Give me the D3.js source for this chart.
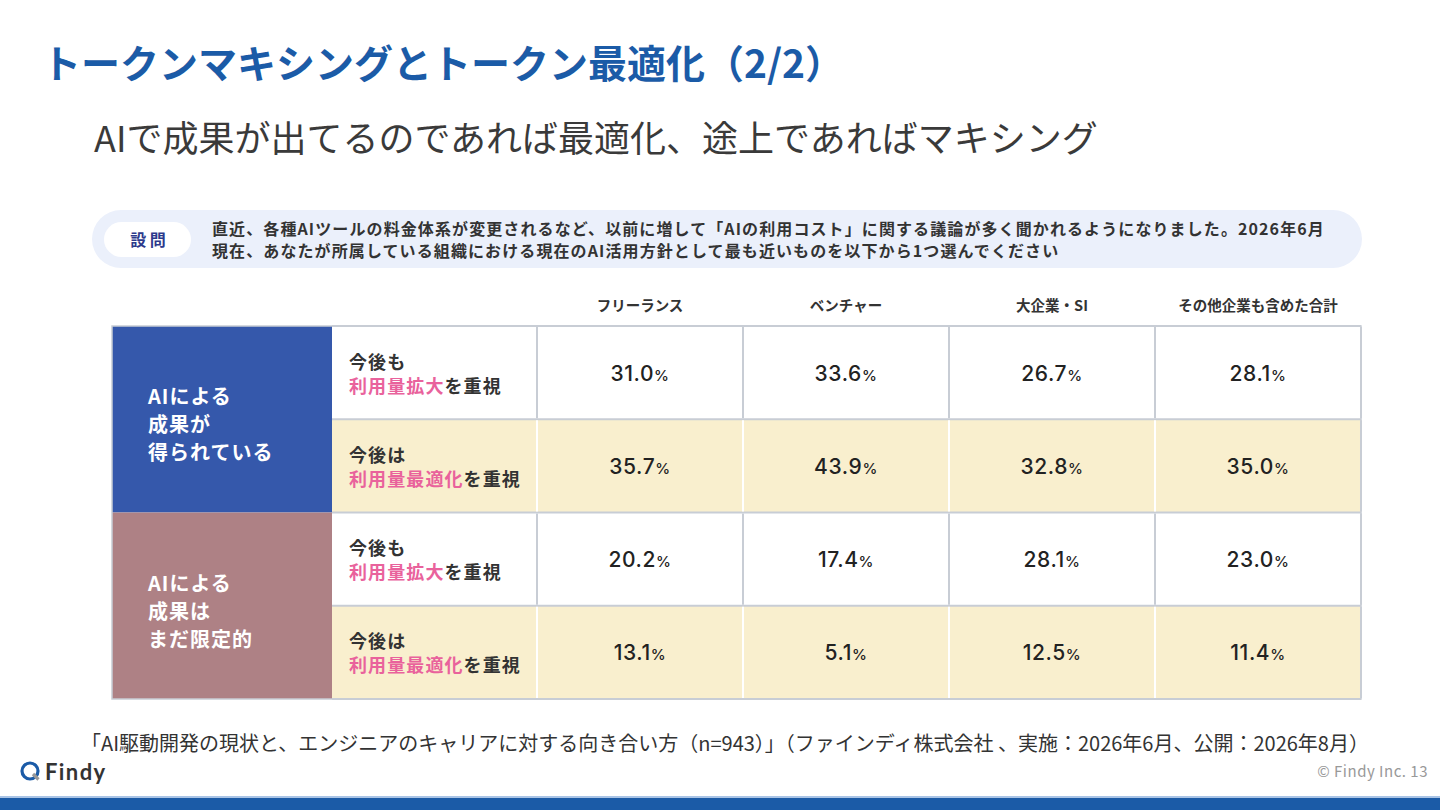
<!DOCTYPE html>
<html>
<head>
<meta charset="utf-8">
<script src="https://cdn.jsdelivr.net/npm/d3@7"></script>
<style>
  body { margin: 0; background: #fff; }
  svg { display: block; font-family: "Noto Sans CJK JP", "Noto Sans", sans-serif; }
</style>
</head>
<body>
<div id="chart-area"></div>
<script>
// data
var columns = ["フリーランス", "ベンチャー", "大企業・SI", "その他企業も含めた合計"];
var groups = [
    { lines: ["AIによる", "成果が", "得られている"], color: "#3558AB" },
    { lines: ["AIによる", "成果は", "まだ限定的"], color: "#AE8185" }
];
var rowLabels = [
    { top: "今後も", pink: "利用量拡大", rest: "を重視" },
    { top: "今後は", pink: "利用量最適化", rest: "を重視" },
    { top: "今後も", pink: "利用量拡大", rest: "を重視" },
    { top: "今後は", pink: "利用量最適化", rest: "を重視" }
];
var freelance  = [31.0, 35.7, 20.2, 13.1];
var venture    = [33.6, 43.9, 17.4, 5.1];
var enterprise = [26.7, 32.8, 28.1, 12.5];
var total      = [28.1, 35.0, 23.0, 11.4];
var series = [freelance, venture, enterprise, total];

var svg = d3.select("#chart-area")
    .append("svg")
        .attr("width", 1440)
        .attr("height", 810);

// title + subtitle
svg.append("text")
    .attr("x", 42).attr("y", 78)
    .attr("font-size", 39).attr("font-weight", 700)
    .attr("fill", "#1B5BA7")
    .text("トークンマキシングとトークン最適化（2/2）");

svg.append("text")
    .attr("x", 94).attr("y", 152)
    .attr("font-size", 36).attr("font-weight", 400)
    .attr("fill", "#3a3a3a")
    .text("AIで成果が出てるのであれば最適化、途上であればマキシング");

// question box
svg.append("rect")
    .attr("x", 92).attr("y", 210).attr("width", 1270).attr("height", 58)
    .attr("rx", 29).attr("fill", "#EBF0FB");
svg.append("rect")
    .attr("x", 104).attr("y", 222).attr("width", 87).attr("height", 35)
    .attr("rx", 17.5).attr("fill", "#fff");
svg.append("text")
    .attr("x", 148).attr("y", 246)
    .attr("text-anchor", "middle")
    .attr("font-size", 16).attr("font-weight", 700)
    .attr("fill", "#2D3A8C")
    .text("設 問");
var qLines = [
    "直近、各種AIツールの料金体系が変更されるなど、以前に増して「AIの利用コスト」に関する議論が多く聞かれるようになりました。2026年6月",
    "現在、あなたが所属している組織における現在のAI活用方針として最も近いものを以下から1つ選んでください"
];
svg.selectAll(".q")
    .data(qLines)
    .enter()
    .append("text")
        .attr("x", 212)
        .attr("y", function(d, i) { return 235 + i * 22; })
        .attr("font-size", 16).attr("font-weight", 700)
        .attr("letter-spacing", 1.1)
        .attr("fill", "#333")
        .text(function(d) { return d; });

// table scales
var x = d3.scaleBand()
    .domain(d3.range(columns.length))
    .range([537, 1361]);
var y = d3.scaleBand()
    .domain(d3.range(rowLabels.length))
    .range([326, 699]);
var grpY = d3.scaleBand()
    .domain(d3.range(groups.length))
    .range([326, 699]);

var tableLeft = 112, labelLeft = 332;

// column headers
svg.selectAll(".colhead")
    .data(columns)
    .enter()
    .append("text")
        .attr("x", function(d, i) { return x(i) + x.bandwidth() / 2; })
        .attr("y", 311)
        .attr("text-anchor", "middle")
        .attr("font-size", 14.5).attr("font-weight", 700)
        .attr("fill", "#333")
        .text(function(d) { return d; });

// row backgrounds
svg.selectAll(".rowbg")
    .data(rowLabels)
    .enter()
    .append("rect")
        .attr("x", labelLeft)
        .attr("y", function(d, i) { return y(i); })
        .attr("width", 1361 - labelLeft)
        .attr("height", y.bandwidth())
        .attr("fill", function(d, i) { return i % 2 ? "#F9EFCE" : "#fff"; });

// horizontal grid lines
svg.selectAll(".hline")
    .data(d3.range(rowLabels.length + 1))
    .enter()
    .append("line")
        .attr("x1", labelLeft).attr("x2", 1361)
        .attr("y1", function(d) { return d < rowLabels.length ? y(d) : 699; })
        .attr("y2", function(d) { return d < rowLabels.length ? y(d) : 699; })
        .attr("stroke", "#C8CDD5").attr("stroke-width", 2);

// vertical separators, white in beige rows
rowLabels.forEach(function(r, ri) {
    svg.selectAll(".vline" + ri)
        .data(d3.range(columns.length + 1))
        .enter()
        .append("line")
            .attr("x1", function(d) { return d < columns.length ? x(d) : 1361; })
            .attr("x2", function(d) { return d < columns.length ? x(d) : 1361; })
            .attr("y1", y(ri) + 1).attr("y2", y(ri) + y.bandwidth() - 1)
            .attr("stroke", function(d) {
                return (ri % 2 && d < columns.length) ? "#fff" : "#C8CDD5";
            })
            .attr("stroke-width", 2);
});

// group blocks
var g = svg.selectAll(".grp")
    .data(groups)
    .enter()
    .append("g");
g.append("rect")
    .attr("x", tableLeft)
    .attr("y", function(d, i) { return grpY(i); })
    .attr("width", labelLeft - tableLeft)
    .attr("height", grpY.bandwidth())
    .attr("fill", function(d) { return d.color; });
g.each(function(d, i) {
    var cy = grpY(i) + grpY.bandwidth() / 2;
    d3.select(this).selectAll("text")
        .data(d.lines)
        .enter()
        .append("text")
            .attr("x", 148)
            .attr("y", function(t, j) { return cy - 15 + j * 28; })
            .attr("font-size", 20).attr("font-weight", 700)
            .attr("letter-spacing", 1)
            .attr("fill", "#fff")
            .text(function(t) { return t; });
});

// row labels
rowLabels.forEach(function(r, i) {
    var cy = y(i) + y.bandwidth() / 2;
    svg.append("text")
        .attr("x", 349).attr("y", cy - 4)
        .attr("font-size", 18).attr("font-weight", 700)
        .attr("letter-spacing", 1.1)
        .attr("fill", "#333")
        .text(r.top);
    var t = svg.append("text")
        .attr("x", 349).attr("y", cy + 20)
        .attr("font-size", 18).attr("font-weight", 700)
        .attr("letter-spacing", 1.1);
    t.append("tspan").attr("fill", "#E9629C").text(r.pink);
    t.append("tspan").attr("fill", "#333").text(r.rest);
});

// values
series.forEach(function(vals, ci) {
    svg.selectAll(".val" + ci)
        .data(vals)
        .enter()
        .append("text")
            .attr("x", x(ci) + x.bandwidth() / 2)
            .attr("y", function(d, ri) { return y(ri) + y.bandwidth() / 2 + 8; })
            .attr("text-anchor", "middle")
            .attr("font-family", "Inter, 'Noto Sans', sans-serif")
            .attr("font-size", 21).attr("font-weight", 500)
            .attr("letter-spacing", 0.6)
            .attr("fill", "#222")
            .call(function(sel) {
                sel.append("tspan").text(function(d) { return d.toFixed(1); });
                sel.append("tspan").attr("font-size", 15).text("%");
            });
});

// outer border
svg.append("rect")
    .attr("x", tableLeft).attr("y", 326)
    .attr("width", 1361 - tableLeft).attr("height", 699 - 326)
    .attr("fill", "none").attr("stroke", "#C8CDD5").attr("stroke-width", 1.5);

// source
svg.append("text")
    .attr("x", 725).attr("y", 751)
    .attr("text-anchor", "middle")
    .attr("font-size", 20).attr("fill", "#333")
    .text("「AI駆動開発の現状と、エンジニアのキャリアに対する向き合い方（n=943）」（ファインディ株式会社 、実施：2026年6月、公開：2026年8月）");

// footer logo
var logo = svg.append("g").attr("transform", "translate(30,771)");
logo.append("circle").attr("r", 8).attr("fill", "none")
    .attr("stroke", "#1B5BA7").attr("stroke-width", 3.2);
logo.append("line").attr("x1", 3).attr("y1", 3).attr("x2", 8.5).attr("y2", 8.5)
    .attr("stroke", "#999").attr("stroke-width", 3.2);
svg.append("text")
    .attr("x", 45).attr("y", 780)
    .attr("font-family", "Lato, sans-serif")
    .attr("font-size", 22).attr("font-weight", 700)
    .attr("letter-spacing", 1.4)
    .attr("fill", "#333")
    .text("Findy");
svg.append("text")
    .attr("x", 1428).attr("y", 777)
    .attr("text-anchor", "end")
    .attr("font-size", 15).attr("fill", "#999")
    .attr("letter-spacing", 0.5)
    .text("© Findy Inc.  13");

// bottom bar
svg.append("rect").attr("x", 0).attr("y", 796).attr("width", 1440).attr("height", 2).attr("fill", "#A9C4E6");
svg.append("rect").attr("x", 0).attr("y", 798).attr("width", 1440).attr("height", 12).attr("fill", "#1B5BA7");
</script>
</body>
</html>
